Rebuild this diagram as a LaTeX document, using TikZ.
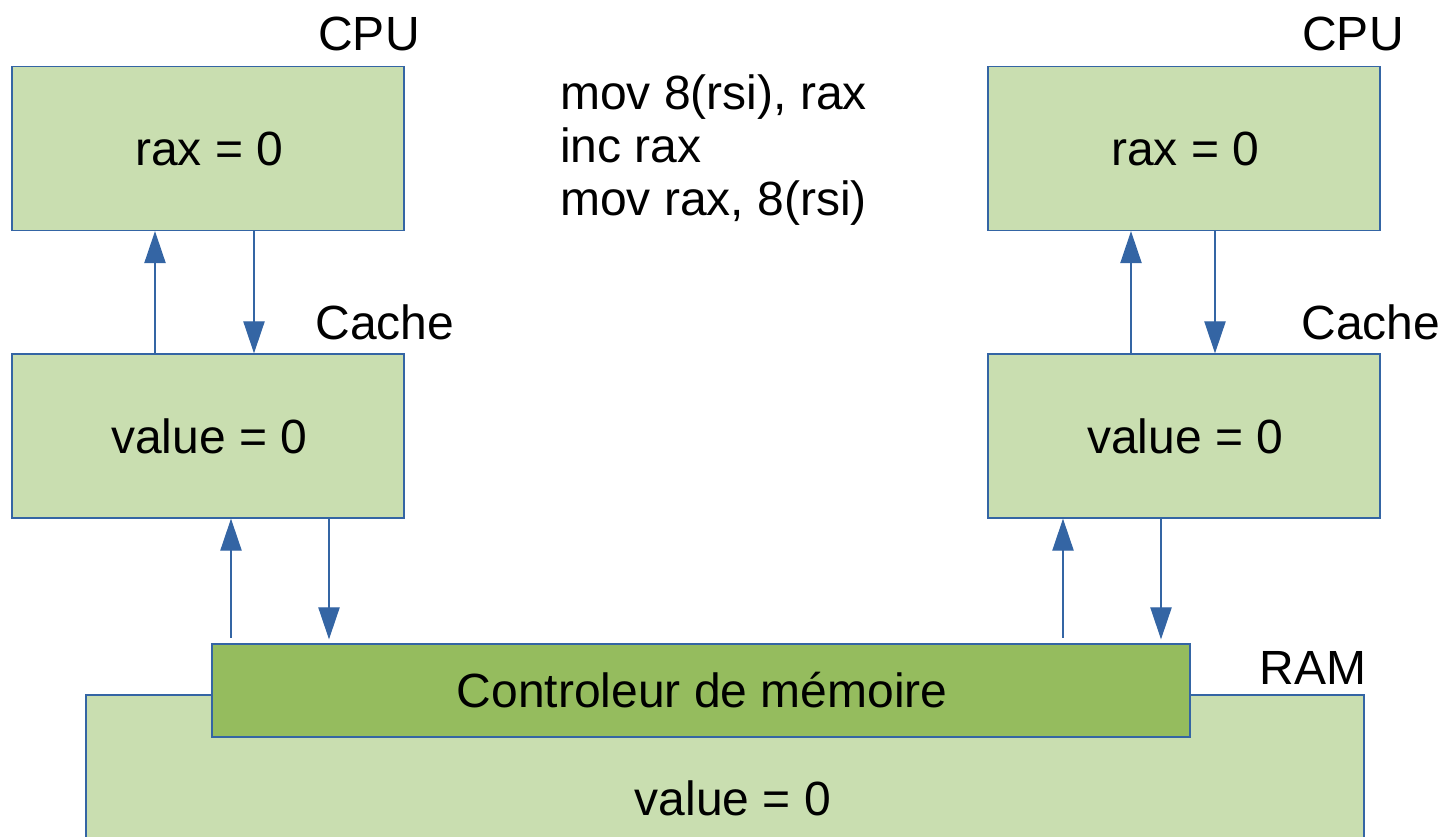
\documentclass[tikz,border=0pt]{standalone}
\usepackage{fontspec}
\setmainfont{Liberation Sans}
\usetikzlibrary{arrows.meta}
\definecolor{lineblue}{HTML}{3465A4}
\definecolor{palegreen}{HTML}{C9DEB0}
\definecolor{ctrlgreen}{HTML}{95BC5E}
\tikzset{>={Triangle[length=24pt,width=16pt]}}
\tikzset{
  box/.style={draw=lineblue, line width=1pt, fill=palegreen, minimum width=294pt, minimum height=123pt, inner sep=0pt},
  link/.style={->, lineblue, line width=0.9pt},
  lbl/.style={inner sep=0pt}
}

\begin{document}
\begin{tikzpicture}[x=0.75pt, y=-0.75pt, font=\fontsize{36}{40}\selectfont]
\useasboundingbox (0,0) rectangle (1443,837);

% CPU and cache, left side
\node[box] (cpuL) at (208,148.5) {\hspace*{2pt}rax = 0};
\node[box] (cacheL) at (208,436) {\hspace*{2pt}value = 0};
\node[lbl] (cpuLlbl) at (369,34) {CPU};
\node[lbl] (cacheLlbl) at (385,322) {Cache};

% CPU and cache, right side
\node[box] (cpuR) at (1184,148.5) {\hspace*{2pt}rax = 0};
\node[box] (cacheR) at (1184,436) {\hspace*{2pt}value = 0};
\node[lbl] (cpuRlbl) at (1353,34) {CPU};
\node[lbl] (cacheRlbl) at (1371,322) {Cache};

% memory
\node[draw=lineblue, line width=1pt, fill=palegreen, minimum width=958.5pt, minimum height=153pt, inner sep=0pt] (ram) at (725,797) {};
\node[lbl] (ramval) at (733,798) {value = 0};
\node[lbl] (ramlbl) at (1313,668) {RAM};
\node[draw=lineblue, line width=1pt, fill=ctrlgreen, minimum width=733.5pt, minimum height=69.75pt, inner sep=0pt] (ctrl) at (701,690.5) {\hspace*{2pt}Controleur de mémoire};

% instructions
\node[lbl, anchor=west, align=left] (code) at (560,150) {mov 8(rsi), rax\\inc rax\\mov rax, 8(rsi)};

% links, left
\draw[link] (cacheL.north -| 155,0) -- (cpuL.south -| 155,0);
\draw[link] (cpuL.south -| 254,0) -- (cacheL.north -| 254,0);
\draw[link, shorten <=4pt] (ctrl.north -| 231,0) -- (cacheL.south -| 231,0);
\draw[link, shorten >=3pt] (cacheL.south -| 329,0) -- (ctrl.north -| 329,0);

% links, right
\draw[link] (cacheR.north -| 1131,0) -- (cpuR.south -| 1131,0);
\draw[link] (cpuR.south -| 1215,0) -- (cacheR.north -| 1215,0);
\draw[link, shorten <=4pt] (ctrl.north -| 1063,0) -- (cacheR.south -| 1063,0);
\draw[link, shorten >=3pt] (cacheR.south -| 1161,0) -- (ctrl.north -| 1161,0);

\end{tikzpicture}
\end{document}
